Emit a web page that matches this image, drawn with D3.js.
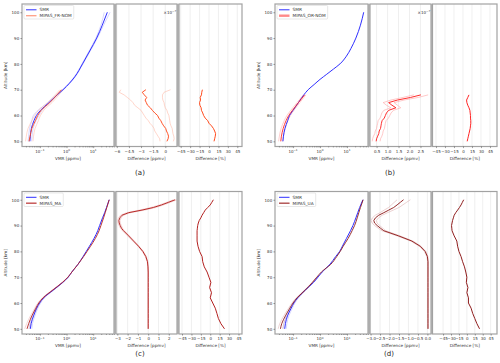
<!DOCTYPE html>
<html>
<head>
<meta charset="utf-8">
<script src="https://cdn.jsdelivr.net/npm/d3@7"></script>
<style>
  body { margin: 0; background: #fff; }
</style>
</head>
<body>
<div id="chart"></div>
<script>
'use strict';

// ---- panel (a): SMR vs MIPAS_FR-NOM ----
const altVmrA = [50, 52, 55, 58, 60, 62, 65, 68, 70, 75, 80, 85, 90, 95, 100];
const smrA = [0.042, 0.044, 0.048, 0.060, 0.074, 0.105, 0.219, 0.447, 0.741, 2.04, 3.98, 7.41, 13.5, 21.9, 33.9];
const smrLoA = [0.036, 0.038, 0.041, 0.050, 0.057, 0.085, 0.200, 0.420, 0.700, 1.95, 3.80, 7.00, 12.6, 19.5, 26.0];
const smrHiA = [0.049, 0.051, 0.056, 0.072, 0.092, 0.122, 0.240, 0.475, 0.780, 2.13, 4.15, 7.80, 14.4, 24.5, 43.0];
const altMipasA = [50, 52, 55, 58, 60, 62, 65, 68, 70];
const mipasA = [0.039, 0.043, 0.050, 0.068, 0.083, 0.112, 0.234, 0.437, 0.646];
const mipasLoA = [0.029, 0.031, 0.036, 0.050, 0.064, 0.088, 0.190, 0.370, 0.560];
const mipasHiA = [0.055, 0.058, 0.066, 0.088, 0.105, 0.140, 0.285, 0.520, 0.740];
const altDiffA = [50, 51, 52, 53, 54, 55, 56, 57, 58, 59, 60, 61, 62, 63, 64, 65, 66, 67, 68, 69, 70];
const diffA = [0.2, 0.35, 0.4, 0.3, 0.15, 0.05, -0.2, -0.4, -0.55, -0.8, -0.95, -1.3, -1.6, -1.85, -2.2, -2.35, -2.5, -2.3, -2.6, -2.85, -2.4];
const diffLoA = [-0.65, -0.7, -0.9, -1.1, -1.3, -1.4, -1.6, -1.9, -2.1, -2.4, -2.6, -2.8, -3.0, -3.4, -3.8, -4.0, -4.3, -4.7, -5.1, -5.7, -5.5];
const diffHiA = [1.0, 1.1, 1.05, 0.95, 0.9, 0.85, 0.7, 0.6, 0.55, 0.5, 0.45, 0.3, 0.2, 0.0, -0.1, -0.15, -0.3, -0.35, -0.35, -0.15, 0.65];
const pctA = [8, 9, 10, 10.5, 9, 7, 4, 0, -2, -6, -8.5, -10, -12, -12.5, -14.5, -15, -13.5, -14, -12, -11.5, -10.5];

// ---- panel (b): SMR vs MIPAS_OR-NOM ----
const altVmrB = [50, 52, 55, 58, 60, 62, 65, 68, 70, 72, 74, 76, 78, 80, 83, 86, 90, 95, 100];
const smrB = [0.042, 0.044, 0.050, 0.063, 0.074, 0.100, 0.158, 0.251, 0.363, 0.603, 1.00, 1.78, 3.16, 5.50, 9.55, 14.1, 21.4, 31.6, 41.7];
const altMipasB = [50, 52, 55, 58, 60, 62, 65, 68];
const mipasB = [0.035, 0.037, 0.043, 0.055, 0.069, 0.095, 0.158, 0.269];
const mipasLoB = [0.029, 0.031, 0.036, 0.047, 0.059, 0.082, 0.140, 0.240];
const mipasHiB = [0.041, 0.044, 0.051, 0.064, 0.080, 0.108, 0.178, 0.300];
const altDiffB = [50, 51, 52, 53, 54, 55, 56, 57, 58, 59, 60, 61, 62, 63, 64, 65, 66, 67, 68];
const diffB = [0.48, 0.5, 0.55, 0.6, 0.62, 0.68, 0.7, 0.72, 0.75, 0.85, 0.9, 0.95, 1.05, 1.38, 1.2, 1.05, 1.45, 2.05, 2.52];
const diffLoB = [0.3, 0.32, 0.36, 0.42, 0.44, 0.5, 0.52, 0.55, 0.57, 0.66, 0.7, 0.74, 0.83, 1.15, 0.95, 0.8, 1.15, 1.7, 2.2];
const diffHiB = [0.66, 0.68, 0.74, 0.78, 0.8, 0.86, 0.88, 0.9, 0.93, 1.04, 1.1, 1.16, 1.27, 1.6, 1.45, 1.3, 1.75, 2.4, 2.85];
const pctB = [7, 8, 9, 10, 11, 12, 12.5, 13, 13, 12.5, 12.5, 12, 11.5, 10, 8, 6.5, 6, 8, 10];

// ---- panels (c) and (d) share the altitude grids ----
const altVmrCD = [50, 52, 55, 58, 60, 62, 65, 68, 70, 72, 75, 78, 80, 82, 85, 88, 90, 93, 95, 97, 100];
const altEnvCD = [50, 52, 55, 58, 60, 62, 65, 68, 70];
const altDiffCD = [50, 52, 54, 56, 58, 60, 62, 64, 66, 68, 70, 72, 74, 76, 78, 80, 82, 84, 86, 88,
                   89, 90, 91, 92, 93, 94, 95, 96, 97, 98, 99, 100];

// (c): SMR vs MIPAS_MA
const smrC = [0.044, 0.047, 0.058, 0.076, 0.098, 0.138, 0.316, 0.724, 1.15, 1.58, 2.69, 4.17, 5.50, 7.24, 10.7, 14.8, 17.4, 22.4, 26.9, 31.6, 39.8];
const smrLoC = [0.039, 0.042, 0.052, 0.069, 0.090, 0.128, 0.300, 0.700, 1.12];
const smrHiC = [0.050, 0.053, 0.065, 0.084, 0.107, 0.149, 0.333, 0.750, 1.18];
const mipasC = [0.033, 0.038, 0.050, 0.071, 0.091, 0.132, 0.302, 0.708, 1.12, 1.58, 2.69, 4.37, 5.89, 7.94, 12.0, 16.6, 19.5, 24.5, 28.2, 32.4, 39.8];
const mipasLoC = [0.027, 0.032, 0.044, 0.064, 0.084, 0.123, 0.287, 0.685, 1.09];
const mipasHiC = [0.040, 0.045, 0.057, 0.079, 0.099, 0.142, 0.318, 0.730, 1.15];
const diffC = [0, 0, 0, 0, 0, 0, 0, 0, 0, 0, 0, 0, -0.02, -0.07, -0.23, -0.52, -0.94, -1.42, -1.9, -2.4,
               -2.6, -2.72, -2.82, -2.85, -2.75, -2.55, -1.9, -0.6, 0.5, 1.3, 1.97, 2.62];
const diffLoC = [0, 0, 0, 0, 0, 0, 0, 0, 0, 0, 0, 0, -0.03, -0.1, -0.28, -0.58, -1.0, -1.5, -2.0, -2.5,
                 -2.7, -2.83, -2.93, -2.96, -2.88, -2.7, -2.1, -0.85, 0.25, 1.1, 1.8, 2.45];
const diffHiC = [0, 0, 0, 0, 0, 0, 0, 0, 0, 0, 0, 0, -0.01, -0.04, -0.18, -0.46, -0.88, -1.34, -1.8, -2.3,
                 -2.5, -2.61, -2.71, -2.74, -2.62, -2.4, -1.7, -0.35, 0.75, 1.5, 2.15, 2.8];
const pctC = [22.7, 17, 13, 10.6, 8, 4, 0, 2, -1, 1, -2, -5, -9.5, -12, -13, -17, -19.5, -21, -21, -21,
              -20.5, -20, -19, -17.5, -15, -13, -10.5, -8, -4, 0, 2.5, 5];

// (d): SMR vs MIPAS_UA
const smrD = [0.049, 0.052, 0.062, 0.085, 0.107, 0.148, 0.282, 0.575, 0.832, 1.20, 2.34, 3.80, 5.37, 6.76, 9.55, 13.5, 16.6, 21.4, 25.1, 29.5, 38.9];
const smrLoD = [0.043, 0.046, 0.055, 0.077, 0.098, 0.138, 0.270, 0.560, 0.810];
const smrHiD = [0.056, 0.059, 0.070, 0.094, 0.117, 0.160, 0.295, 0.590, 0.855];
const mipasD = [0.034, 0.038, 0.052, 0.076, 0.100, 0.141, 0.282, 0.525, 0.759, 1.12, 2.51, 4.17, 5.62, 7.24, 11.0, 15.5, 19.1, 24.0, 27.5, 31.6, 39.8];
const mipasLoD = [0.028, 0.032, 0.045, 0.068, 0.091, 0.130, 0.265, 0.505, 0.735];
const mipasHiD = [0.041, 0.045, 0.060, 0.085, 0.110, 0.153, 0.300, 0.545, 0.785];
const diffD = [0.03, 0.03, 0.03, 0.03, 0.03, 0.03, 0.03, 0.03, 0.03, 0.03, 0.03, 0.03, 0.03, 0.03, 0, -0.12, -0.38, -0.82, -1.52, -2.3,
               -2.48, -2.65, -2.79, -2.83, -2.74, -2.57, -2.3, -2.04, -1.78, -1.6, -1.43, -1.26];
const diffLoD = [0.03, 0.03, 0.03, 0.03, 0.03, 0.03, 0.03, 0.03, 0.03, 0.03, 0.03, 0.03, 0.03, 0.02, -0.03, -0.16, -0.43, -0.88, -1.6, -2.4,
                 -2.6, -2.78, -2.92, -2.97, -2.9, -2.75, -2.5, -2.28, -2.05, -1.9, -1.75, -1.6];
const diffHiD = [0.03, 0.03, 0.03, 0.03, 0.03, 0.03, 0.03, 0.03, 0.03, 0.03, 0.03, 0.03, 0.03, 0.04, 0.03, -0.08, -0.33, -0.76, -1.44, -2.2,
                 -2.36, -2.52, -2.66, -2.69, -2.58, -2.39, -2.1, -1.8, -1.5, -1.3, -1.1, -0.9];
const pctD = [24, 19, 15, 11, 8, 3, 3, 0, 2, -1, 0, -2, -4.5, -8, -11, -15, -17.5, -19, -24, -28,
              -28.5, -29, -28, -27, -25.5, -24, -21, -17.5, -14, -11, -8.5, -6];

// ticks and labels
const altTicks = [50, 60, 70, 80, 90, 100];
const vmrTicks = [0.1, 1, 10];
const pctTicks = [-45, -30, -15, 0, 15, 30, 45];
const diffTicksA = [-6, -4.5, -3, -1.5, 0];
const diffTicksB = [0.5, 1.0, 1.5, 2.0, 2.5];
const diffTicksC = [-3, -2, -1, 0, 1, 2];
const diffTicksD = [-3.0, -2.5, -2.0, -1.5, -1.0, -0.5, 0.0];

const FONT = '"DejaVu Sans", sans-serif';
const altDomain = [48.0, 103.2];
const vmrDomain = [Math.pow(10, -1.67), Math.pow(10, 1.78)];

const svg = d3.select('#chart')
              .append('svg')
                .attr('width', 500)
                .attr('height', 363);
svg.append('rect').attr('width', 500).attr('height', 363).attr('fill', 'white');

const panels = [
  {
    tag: '(a)', top: 4, bottom: 146.5, cols: [[22, 114], [116, 177], [179, 242]],
    yLabelX: 6, tagX: 140, tagY: 175,
    diffDomain: [-6.1, 1.45], diffTicks: diffTicksA, diffFmt: d3.format('~g'),
    pctDomain: [-47.7, 52.5], offsetText: true,
    name: 'MIPAS_FR-NOM', color: '#ff4a1c', envColor: '#ffb4a0', legendColor: '#ff9f85', legendWidth: 1.3,
    smr: [altVmrA, smrA], smrEnv: [altVmrA, smrLoA, smrHiA],
    mipas: [altMipasA, mipasA], mipasEnv: [altMipasA, mipasLoA, mipasHiA],
    diff: [altDiffA, diffA, diffLoA, diffHiA], pct: [altDiffA, pctA],
  },
  {
    tag: '(b)', top: 4, bottom: 146.5, cols: [[275, 368], [370, 431], [432.5, 497]],
    yLabelX: 258.5, tagX: 390, tagY: 175,
    diffDomain: [0.2, 2.98], diffTicks: diffTicksB, diffFmt: d3.format('.1f'),
    pctDomain: [-50.8, 56.7], offsetText: true,
    name: 'MIPAS_OR-NOM', color: '#ff2424', envColor: '#ff9c9c', legendColor: '#ff8a8a', legendWidth: 2.4,
    smr: [altVmrB, smrB], smrEnv: null,
    mipas: [altMipasB, mipasB], mipasEnv: [altMipasB, mipasLoB, mipasHiB],
    diff: [altDiffB, diffB, diffLoB, diffHiB], pct: [altDiffB, pctB],
  },
  {
    tag: '(c)', top: 191.5, bottom: 334, cols: [[22, 114], [116, 177], [179, 242]],
    yLabelX: 6, tagX: 140, tagY: 356,
    diffDomain: [-3.13, 2.8], diffTicks: diffTicksC, diffFmt: d3.format('~g'),
    pctDomain: [-49.8, 50.6], offsetText: false,
    name: 'MIPAS_MA', color: '#b3201f', envColor: '#eab0b0', legendColor: '#b3201f', legendWidth: 1.4,
    smr: [altVmrCD, smrC], smrEnv: [altEnvCD, smrLoC, smrHiC],
    mipas: [altVmrCD, mipasC], mipasEnv: [altEnvCD, mipasLoC, mipasHiC],
    diff: [altDiffCD, diffC, diffLoC, diffHiC], pct: [altDiffCD, pctC],
  },
  {
    tag: '(d)', top: 191.5, bottom: 334, cols: [[275, 368], [370, 431], [432.5, 497]],
    yLabelX: 258.5, tagX: 389, tagY: 356,
    diffDomain: [-3.03, 0.19], diffTicks: diffTicksD, diffFmt: d3.format('.1f'),
    pctDomain: [-65, 57], offsetText: false,
    name: 'MIPAS_UA', color: '#8f1d1d', envColor: '#dcaaaa', legendColor: '#8f1d1d', legendWidth: 1.4,
    smr: [altVmrCD, smrD], smrEnv: [altEnvCD, smrLoD, smrHiD],
    mipas: [altVmrCD, mipasD], mipasEnv: [altEnvCD, mipasLoD, mipasHiD],
    diff: [altDiffCD, diffD, diffLoD, diffHiD], pct: [altDiffCD, pctD],
  },
];

const SMR_COLOR = '#2f2fff';
const SMR_ENV = '#aeaeff';

function styleAxis(sel) {
  sel.attr('font-size', 4).attr('font-family', FONT);
  sel.select('.domain').remove();
  sel.selectAll('.tick line').attr('stroke', '#444').attr('stroke-width', 0.5);
  sel.selectAll('.tick text').attr('fill', '#333');
}

// smooth=true for the vmr profiles, the difference profiles stay jagged
function drawLine(g, x, y, alts, vals, color, width, smooth=false) {
  g.append('path')
   .datum(d3.zip(vals, alts))
   .attr('fill', 'none')
   .attr('stroke', color)
   .attr('stroke-width', width)
   .attr('stroke-linejoin', 'round')
   .attr('d', d3.line()
                .curve(smooth ? d3.curveMonotoneY : d3.curveLinear)
                .x(d => x(d[0])).y(d => y(d[1])));
}

let clipCount = 0;
function addClip(x0, x1, top, bottom) {
  const id = 'clip' + (clipCount++);
  svg.append('clipPath').attr('id', id)
     .append('rect').attr('x', x0).attr('y', top)
     .attr('width', x1 - x0).attr('height', bottom - top);
  return 'url(#' + id + ')';
}

function drawPanel(p) {
  const g = svg.append('g');
  const y = d3.scaleLinear().domain(altDomain).range([p.bottom, p.top]);
  const xV = d3.scaleLog().domain(vmrDomain).range(p.cols[0]);
  const xD = d3.scaleLinear().domain(p.diffDomain).range(p.cols[1]);
  const xP = d3.scaleLinear().domain(p.pctDomain).range(p.cols[2]);

  // grid lines on the difference panels
  const grid = g.append('g').attr('stroke', '#e4e4e4').attr('stroke-width', 0.6);
  grid.selectAll(null).data(p.diffTicks).enter().append('line')
      .attr('x1', d => xD(d)).attr('x2', d => xD(d))
      .attr('y1', p.top).attr('y2', p.bottom);
  grid.selectAll(null).data(pctTicks).enter().append('line')
      .attr('x1', d => xP(d)).attr('x2', d => xP(d))
      .attr('y1', p.top).attr('y2', p.bottom);

  // VMR profiles
  const gV = g.append('g').attr('clip-path', addClip(p.cols[0][0], p.cols[0][1], p.top, p.bottom));
  if (p.smrEnv) {
    drawLine(gV, xV, y, p.smrEnv[0], p.smrEnv[1], SMR_ENV, 0.5, true);
    drawLine(gV, xV, y, p.smrEnv[0], p.smrEnv[2], SMR_ENV, 0.5, true);
  }
  drawLine(gV, xV, y, p.mipasEnv[0], p.mipasEnv[1], p.envColor, 0.5, true);
  drawLine(gV, xV, y, p.mipasEnv[0], p.mipasEnv[2], p.envColor, 0.5, true);
  drawLine(gV, xV, y, p.smr[0], p.smr[1], SMR_COLOR, 1, true);
  drawLine(gV, xV, y, p.mipas[0], p.mipas[1], p.color, 0.9, true);

  // absolute difference
  const gD = g.append('g').attr('clip-path', addClip(p.cols[1][0], p.cols[1][1], p.top, p.bottom));
  drawLine(gD, xD, y, p.diff[0], p.diff[2], p.envColor, 0.55);
  drawLine(gD, xD, y, p.diff[0], p.diff[3], p.envColor, 0.55);
  drawLine(gD, xD, y, p.diff[0], p.diff[1], p.color, 0.95);

  // relative difference
  const gP = g.append('g').attr('clip-path', addClip(p.cols[2][0], p.cols[2][1], p.top, p.bottom));
  drawLine(gP, xP, y, p.pct[0], p.pct[1], p.color, 1);

  // separators between the subplots
  g.append('rect').attr('x', p.cols[0][1]).attr('y', p.top)
   .attr('width', p.cols[1][0] - p.cols[0][1]).attr('height', p.bottom - p.top)
   .attr('fill', '#bdbdbd');
  g.append('rect').attr('x', p.cols[1][1]).attr('y', p.top)
   .attr('width', p.cols[2][0] - p.cols[1][1]).attr('height', p.bottom - p.top)
   .attr('fill', '#bdbdbd');
  for (const c of p.cols) {
    g.append('rect').attr('x', c[0]).attr('y', p.top)
     .attr('width', c[1] - c[0]).attr('height', p.bottom - p.top)
     .attr('fill', 'none').attr('stroke', '#a2a2a2').attr('stroke-width', 1.2);
  }

  // y axis (only on the first subplot)
  g.append('g').attr('transform', 'translate(' + p.cols[0][0] + ',0)')
   .call(d3.axisLeft(y).tickValues(altTicks).tickSize(1.6).tickPadding(1.2))
   .call(styleAxis);
  g.append('text')
   .attr('transform', 'translate(' + p.yLabelX + ',' + (p.top + p.bottom) / 2 + ') rotate(-90)')
   .attr('text-anchor', 'middle').attr('dy', '0.35em')
   .attr('font-size', 4.2).attr('font-family', FONT).attr('fill', '#333')
   .text('Altitude [km]');

  // log x axis with minor ticks
  const minor = xV.ticks().filter(d => vmrTicks.indexOf(d) < 0 && d > vmrDomain[0] && d < vmrDomain[1]);
  g.append('g').attr('transform', 'translate(0,' + p.bottom + ')')
   .call(d3.axisBottom(xV).tickValues(minor).tickSize(0.9).tickFormat(''))
   .call(styleAxis);
  g.append('g').attr('transform', 'translate(0,' + p.bottom + ')')
   .call(d3.axisBottom(xV).tickValues(vmrTicks).tickSize(1.6).tickFormat(''))
   .call(styleAxis);
  g.selectAll(null).data(vmrTicks).enter().append('text')
   .attr('x', d => xV(d)).attr('y', p.bottom + 6.2)
   .attr('text-anchor', 'middle')
   .attr('font-size', 4).attr('font-family', FONT).attr('fill', '#333')
   .each(function(d) {
     const t = d3.select(this);
     t.append('tspan').text('10');
     t.append('tspan').attr('dy', -1.7).attr('font-size', 2.8)
      .text(d3.format('d')(Math.round(Math.log10(d))));
   });

  g.append('g').attr('transform', 'translate(0,' + p.bottom + ')')
   .call(d3.axisBottom(xD).tickValues(p.diffTicks).tickSize(1.6).tickPadding(1.6).tickFormat(p.diffFmt))
   .call(styleAxis);
  g.append('g').attr('transform', 'translate(0,' + p.bottom + ')')
   .call(d3.axisBottom(xP).tickValues(pctTicks).tickSize(1.6).tickPadding(1.6).tickFormat(d3.format('d')))
   .call(styleAxis);

  // axis labels
  const labels = [
    ['VMR [ppmv]', (p.cols[0][0] + p.cols[0][1]) / 2],
    ['Difference [ppmv]', (p.cols[1][0] + p.cols[1][1]) / 2],
    ['Difference [%]', (p.cols[2][0] + p.cols[2][1]) / 2],
  ];
  g.selectAll(null).data(labels).enter().append('text')
   .attr('x', d => d[1]).attr('y', p.bottom + 13)
   .attr('text-anchor', 'middle')
   .attr('font-size', 4.2).attr('font-family', FONT).attr('fill', '#333')
   .text(d => d[0]);

  if (p.offsetText) {
    const t = g.append('text')
               .attr('x', p.cols[1][1] - 0.8).attr('y', p.top + 10)
               .attr('text-anchor', 'end')
               .attr('font-size', 4).attr('font-family', FONT).attr('fill', '#333');
    t.append('tspan').text('\u00d710');
    t.append('tspan').attr('dy', -1.7).attr('font-size', 2.8).text('\u22127');
  }

  g.append('text')
   .attr('x', p.tagX).attr('y', p.tagY)
   .attr('text-anchor', 'middle')
   .attr('font-size', 7).attr('font-family', FONT).attr('fill', '#222')
   .text(p.tag);

  drawLegend(g, p);
}

function drawLegend(g, p) {
  const lx = p.cols[0][0] + 2, ly = p.top + 1.5;
  const box = g.append('rect')
               .attr('x', lx).attr('y', ly).attr('rx', 1)
               .attr('fill', 'white').attr('stroke', '#d0d0d0').attr('stroke-width', 0.5);
  const entries = [
    {name: 'SMR', color: SMR_COLOR, width: 1, inner: null},
    {name: p.name, color: p.legendColor, width: p.legendWidth, inner: null},
  ];
  // todo this tag check is a bit hacky
  if (p.tag === '(c)' || p.tag === '(d)') {
    entries[1].color = '#e2a4a4';
    entries[1].inner = p.color;
  }
  let maxW = 0;
  entries.forEach((e, i) => {
    const yy = ly + 4.3 + i * 5.9;
    g.append('line')
     .attr('x1', lx + 2).attr('x2', lx + 12.5)
     .attr('y1', yy).attr('y2', yy)
     .attr('stroke', e.color).attr('stroke-width', e.width);
    if (e.inner) {
      g.append('line')
       .attr('x1', lx + 2).attr('x2', lx + 12.5)
       .attr('y1', yy).attr('y2', yy)
       .attr('stroke', e.inner).attr('stroke-width', 0.8);
    }
    const t = g.append('text')
               .attr('x', lx + 15.5).attr('y', yy + 1.5)
               .attr('font-size', 4.3).attr('font-family', FONT).attr('fill', '#333')
               .text(e.name);
    maxW = Math.max(maxW, t.node().getComputedTextLength());
  });
  box.attr('width', 15.5 + maxW + 2).attr('height', 13.5);
}

panels.forEach(drawPanel);
</script>
</body>
</html>
